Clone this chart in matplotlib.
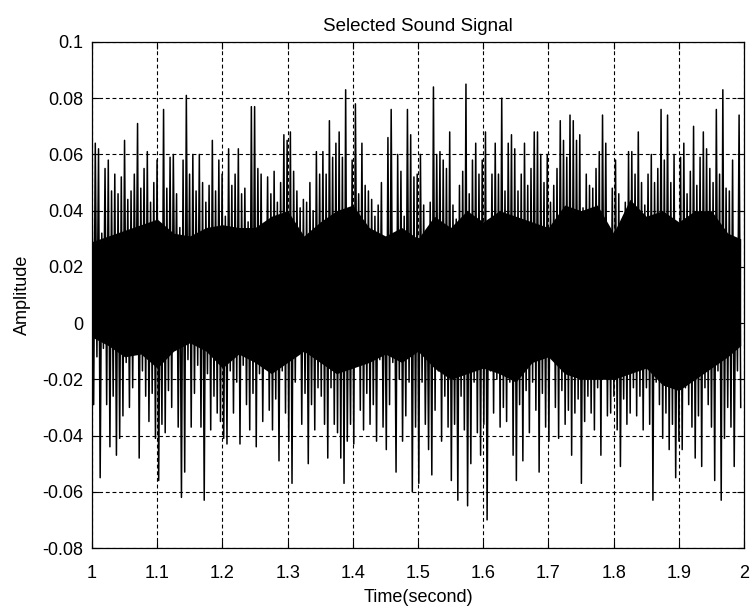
import matplotlib
matplotlib.use("Agg")
import matplotlib.pyplot as plt
import numpy as np

# peak values, in thousandths of amplitude units,
# one upper and one lower extreme for every 5 ms slot from t=1.0 s
upper_peaks = [
    52, 64, 62, 32, 55, 58, 47, 53, 46, 52, 65, 44, 47, 53, 71, 48, 55, 61, 43, 50,
    58, 30, 76, 48, 59, 60, 46, 34, 58, 81, 53, 60, 47, 60, 50, 43, 49, 65, 47, 58,
    53, 38, 62, 49, 53, 62, 46, 48, 36, 77,
    77, 55, 53, 29, 52, 46, 54, 43, 50, 67, 65, 68, 54, 47, 41, 44, 43, 50, 40, 61,
    53, 61, 53, 72, 59, 64, 68, 59, 83, 29, 58, 78, 46, 64, 49, 47, 44, 38, 42, 50,
    29, 66, 76, 29, 60, 54, 38, 76, 67, 52,
    53, 60, 42, 28, 43, 84, 60, 61, 58, 55, 68, 42, 37, 49, 54, 85, 46, 58, 64, 53,
    58, 68, 31, 53, 64, 53, 80, 47, 64, 67, 62, 47, 53, 64, 49, 55, 68, 68, 60, 50,
    60, 43, 49, 55, 72, 65, 59, 74, 72, 65,
    67, 41, 53, 49, 48, 55, 61, 74, 64, 32, 48, 58, 46, 31, 43, 61, 61, 53, 68, 50,
    42, 53, 60, 50, 55, 76, 58, 74, 50, 60, 31, 59, 64, 46, 54, 70, 49, 59, 68, 62,
    55, 50, 76, 53, 83, 48, 47, 58, 30, 74,
]
lower_peaks = [
    -29, -12, -55, -9, -29, -44, -26, -47, -41, -33, -14, -30, -23, -8, -48, -17, -26, -35, -25, -41,
    -56, -36, -39, -24, -30, -2, -37, -62, -53, -13, -37, -25, -15, -37, -63, -18, -38, -26, -32, -35,
    -41, -43, -17, -32, -21, -43, -15, -29, -38, -25,
    -44, -18, -35, -6, -31, -38, -27, -49, -17, -32, -42, -57, -21, -8, -36, -25, -50, -29, -38, -23,
    -26, -36, -48, -23, -36, -39, -48, -57, -42, -36, -43, -6, -31, -38, -25, -36, -29, -42, -13, -37,
    -45, -29, -14, -53, -20, -42, -33, -21, -60, -37,
    -57, -21, -36, -45, -54, -31, -17, -42, -26, -37, -56, -36, -63, -26, -38, -65, -50, -21, -39, -47,
    -36, -70, -17, -32, -20, -37, -30, -35, -21, -47, -56, -29, -49, -24, -39, -21, -31, -53, -25, -37,
    -42, -11, -30, -41, -24, -36, -31, -47, -32, -27,
    -57, -35, -26, -32, -38, -23, -47, -17, -33, -32, -26, -38, -51, -27, -36, -32, -23, -33, -26, -38,
    -23, -36, -63, -21, -29, -41, -32, -45, -36, -55, -42, -45, -23, -29, -37, -48, -33, -51, -23, -29,
    -37, -56, -17, -63, -41, -30, -37, -51, -17, -30,
]
t_start, t_end = 1.0, 1.995

# edges of the solid black body of the trace, read every 25 ms (thousandths)
core_t = [1.0, 1.025, 1.05, 1.075, 1.1, 1.125, 1.15, 1.175, 1.2, 1.225,
          1.25, 1.275, 1.3, 1.325, 1.35, 1.375, 1.4, 1.425, 1.45, 1.475,
          1.5, 1.525, 1.55, 1.575, 1.6, 1.625, 1.65, 1.675, 1.7, 1.725,
          1.75, 1.775, 1.8, 1.825, 1.85, 1.875, 1.9, 1.925, 1.95, 1.975, 1.995]
core_top = [29, 31, 33, 35, 37, 32, 31, 34, 35, 34,
            34, 38, 40, 31, 36, 40, 42, 34, 31, 34,
            30, 38, 34, 40, 36, 40, 38, 36, 34, 42,
            40, 42, 32, 44, 38, 40, 36, 40, 40, 32, 30]
core_bottom = [-5, -8, -12, -11, -16, -10, -7, -10, -16, -11,
               -14, -18, -14, -10, -14, -18, -16, -14, -11, -14,
               -10, -16, -20, -18, -16, -18, -21, -14, -12, -18,
               -20, -20, -20, -18, -16, -22, -24, -20, -16, -12, -8]

x_ticks = [1, 1.1, 1.2, 1.3, 1.4, 1.5, 1.6, 1.7, 1.8, 1.9, 2]
x_labels = ['1', '1.1', '1.2', '1.3', '1.4', '1.5', '1.6', '1.7', '1.8', '1.9', '2']
y_ticks = [0.1, 0.08, 0.06, 0.04, 0.02, 0, -0.02, -0.04, -0.06, -0.08]
y_labels = ['0.1', '0.08', '0.06', '0.04', '0.02', '0', '-0.02', '-0.04', '-0.06', '-0.08']

# interleave the extremes so the trace swings top/bottom like the recording
signal = np.empty(2 * len(upper_peaks))
signal[0::2] = np.array(upper_peaks) / 1000.0
signal[1::2] = np.array(lower_peaks) / 1000.0
t = np.linspace(t_start, t_end, len(signal))

plt.rcParams['font.family'] = ['Liberation Sans', 'DejaVu Sans']

fig = plt.figure(figsize=(7.55, 6.11), dpi=100)
ax = fig.add_axes([0.1219, 0.1031, 0.8635, 0.8282])

ax.fill_between(core_t, np.array(core_bottom) / 1000.0, np.array(core_top) / 1000.0,
                color='black', lw=0, zorder=3)
ax.plot(t, signal, color='black', lw=1.1, zorder=3)

ax.set_xlim(1, 2)
ax.set_ylim(-0.08, 0.1)
ax.set_xticks(x_ticks)
ax.set_xticklabels(x_labels)
ax.set_yticks(y_ticks)
ax.set_yticklabels(y_labels)
ax.tick_params(direction='in', top=True, right=True, length=5, width=0.8,
               labelsize=13)
ax.tick_params(axis='x', pad=12)
ax.tick_params(axis='y', pad=6)
ax.grid(True, color='black', linestyle=(0, (3.5, 2.5)), linewidth=0.8, zorder=1)
for s in ax.spines.values():
    s.set_linewidth(0.9)
    s.set_zorder(4)

ax.set_title('Selected Sound Signal', fontsize=13.5, pad=8)
ax.set_xlabel('Time(second)', fontsize=13, labelpad=5)
ax.set_ylabel('Amplitude', fontsize=13, labelpad=8)

fig.savefig('out.png', dpi=100)
